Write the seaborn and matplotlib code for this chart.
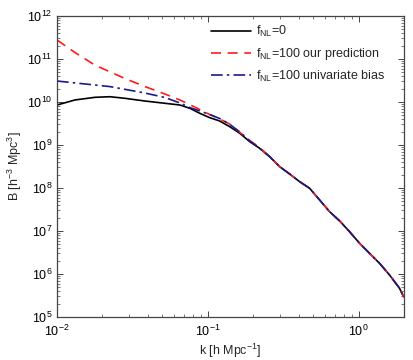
import numpy as np
import pandas as pd
import matplotlib
matplotlib.use("Agg")
import matplotlib.pyplot as plt
import seaborn as sns
from matplotlib.ticker import LogLocator, NullFormatter

k = [0.01, 0.01315, 0.01786, 0.02245, 0.02818, 0.03826, 0.05193, 0.06531, 0.07603,
     0.08851, 0.1030, 0.1199, 0.1398, 0.1629, 0.1897, 0.2208, 0.2574, 0.2997,
     0.3491, 0.4066, 0.4734, 0.5516, 0.6423, 0.7480, 0.8710, 1.015, 1.182,
     1.377, 1.604, 1.869, 1.987]
logB_fnl0 = [9.930, 10.047, 10.109, 10.123, 10.086, 10.023, 9.970, 9.930, 9.853,
             9.737, 9.635, 9.558, 9.426, 9.272, 9.077, 8.923, 8.728, 8.495,
             8.326, 8.147, 7.993, 7.721, 7.449, 7.235, 6.984, 6.714, 6.481,
             6.249, 5.977, 5.667, 5.472]
logB_pred = [11.442, 11.151, 10.856, 10.702, 10.547, 10.360, 10.186, 10.047, 9.937,
             9.826, 9.709, 9.605, 9.488, 9.295, 9.105, 8.942, 8.728, 8.495,
             8.326, 8.147, 7.993, 7.721, 7.449, 7.235, 6.984, 6.714, 6.481,
             6.249, 5.977, 5.667, 5.472]
logB_univ = [10.488, 10.444, 10.395, 10.358, 10.295, 10.209, 10.105, 9.977, 9.870,
             9.791, 9.709, 9.616, 9.481, 9.302, 9.093, 8.923, 8.728, 8.495,
             8.326, 8.147, 7.993, 7.721, 7.449, 7.235, 6.984, 6.714, 6.481,
             6.249, 5.977, 5.667, 5.472]

labels = [r"f$_{\mathrm{NL}}$=0",
          r"f$_{\mathrm{NL}}$=100 our prediction",
          r"f$_{\mathrm{NL}}$=100 univariate bias"]

sns.set_style("white")
plt.rcParams['font.family'] = ['Liberation Sans', 'DejaVu Sans']
plt.rcParams['mathtext.fontset'] = 'custom'
plt.rcParams['mathtext.rm'] = 'Liberation Sans'
plt.rcParams['mathtext.it'] = 'Liberation Sans:italic'

fig = plt.figure(figsize=(4.13, 3.6), dpi=100)
ax = fig.add_axes([57/413, 43/360, 347/413, 301/360])

series = [(logB_fnl0, labels[0], 'black', '-'),
          (logB_pred, labels[1], '#ff1a1a', (0, (6, 4))),
          (logB_univ, labels[2], '#1a1a8c', (0, (7, 2.5, 1.5, 2.5)))]
for vals, lab, col, ls in series:
    df = pd.DataFrame({'k': k, 'B': 10 ** np.array(vals)})
    sns.lineplot(data=df, x='k', y='B', ax=ax, color=col, linestyle=ls,
                 linewidth=1.2, label=lab)

ax.set_xscale('log')
ax.set_yscale('log')
ax.set_xlim(0.01, 2)
ax.set_ylim(1e5, 1e12)
ax.xaxis.set_major_locator(LogLocator(base=10, numticks=20))
ax.xaxis.set_minor_locator(LogLocator(base=10, subs=np.arange(2, 10), numticks=20))
ax.yaxis.set_major_locator(LogLocator(base=10, numticks=20))
ax.yaxis.set_minor_locator(LogLocator(base=10, subs=np.arange(2, 10), numticks=20))
ax.yaxis.set_minor_formatter(NullFormatter())
ax.xaxis.set_minor_formatter(NullFormatter())

ax.tick_params(which='both', direction='in', bottom=True, left=True, top=True,
               right=True, color='#444444', labelcolor='black', labelsize=9)
ax.tick_params(which='major', length=4, width=0.7)
ax.tick_params(which='minor', length=2, width=0.5)
ax.tick_params(axis='x', which='major', pad=5)
for s in ax.spines.values():
    s.set_color('#444444')
    s.set_linewidth(0.9)

ax.set_xlabel(r"k [h Mpc$^{-1}$]", fontsize=9, labelpad=2)
ax.set_ylabel(r"B [h$^{-3}$ Mpc$^{3}$]", fontsize=9, labelpad=2)

leg = ax.legend(loc='upper left', bbox_to_anchor=(0.43, 0.99), frameon=False,
                fontsize=9, handlelength=3.2, handletextpad=0.4, labelspacing=0.55,
                borderaxespad=0)

fig.savefig('out.png', dpi=100)
